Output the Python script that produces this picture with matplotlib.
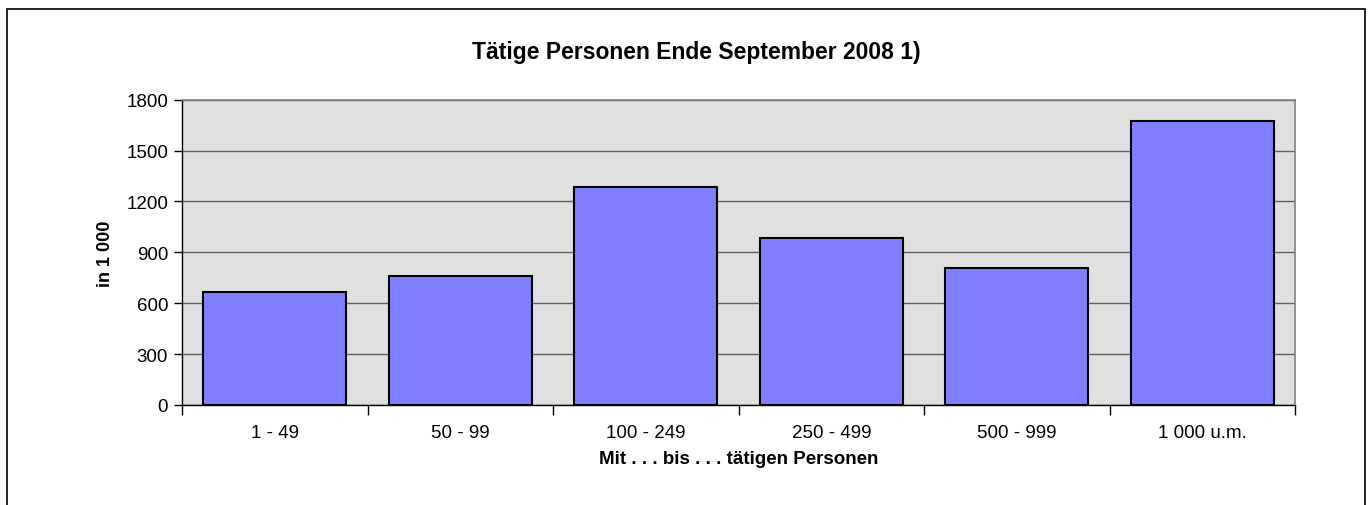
import matplotlib.pyplot as plt
from matplotlib.patches import Rectangle
import numpy as np

plt.rcParams['font.family'] = ['Liberation Sans', 'DejaVu Sans']

# Daten
kategorien = ['1 - 49', '50 - 99', '100 - 249', '250 - 499', '500 - 999', '1 000 u.m.']
personen = [665, 760, 1287, 986, 808, 1673]
y_ticks = [0, 300, 600, 900, 1200, 1500, 1800]

fig = plt.figure(figsize=(13.69, 5.06), dpi=100)
ax = fig.add_axes([182/1369, 1 - 406/506, (1295 - 182)/1369, (406 - 100.7)/506])

x = np.arange(len(kategorien))
ax.bar(x, personen, width=1/1.3, color='#8080FF', edgecolor='black', linewidth=1.5, zorder=3)

ax.set_facecolor('#E0E0E0')
ax.set_xlim(-0.5, len(kategorien) - 0.5)
ax.set_ylim(0, 1800)
ax.set_yticks(y_ticks)
ax.yaxis.grid(True, color='#606060', linewidth=1, zorder=1)

# Ticks: Beschriftung in der Mitte, Striche an den Grenzen
ax.set_xticks(x)
ax.set_xticklabels(kategorien, fontsize=13.5)
ax.tick_params(axis='x', which='major', length=0, pad=14)
ax.set_xticks(np.arange(-0.5, len(kategorien)), minor=True)
ax.tick_params(axis='x', which='minor', length=7, width=1, color='black', direction='out')
ax.tick_params(axis='y', length=6, width=1, labelsize=13.5, pad=4)

for s in ['top', 'right']:
    ax.spines[s].set_color('#808080')
    ax.spines[s].set_linewidth(1.2)
for s in ['left', 'bottom']:
    ax.spines[s].set_color('black')
    ax.spines[s].set_linewidth(1)

ax.set_ylabel('in 1 000', fontsize=13, fontweight='bold', labelpad=9)
ax.set_xlabel('Mit . . . bis . . . tätigen Personen', fontsize=13.5, fontweight='bold', labelpad=6)

fig.text(696/1369, 1 - 53/506, 'Tätige Personen Ende September 2008 1)',
         ha='center', va='center', fontsize=16.5, fontweight='bold')

# Rahmen um die Grafik
fig.patches.append(Rectangle((7/1369, -0.1), (1365 - 7)/1369, 1.1 - 10/506,
                             transform=fig.transFigure, fill=False,
                             edgecolor='black', linewidth=1.2))

fig.savefig('out.png', dpi=100)
